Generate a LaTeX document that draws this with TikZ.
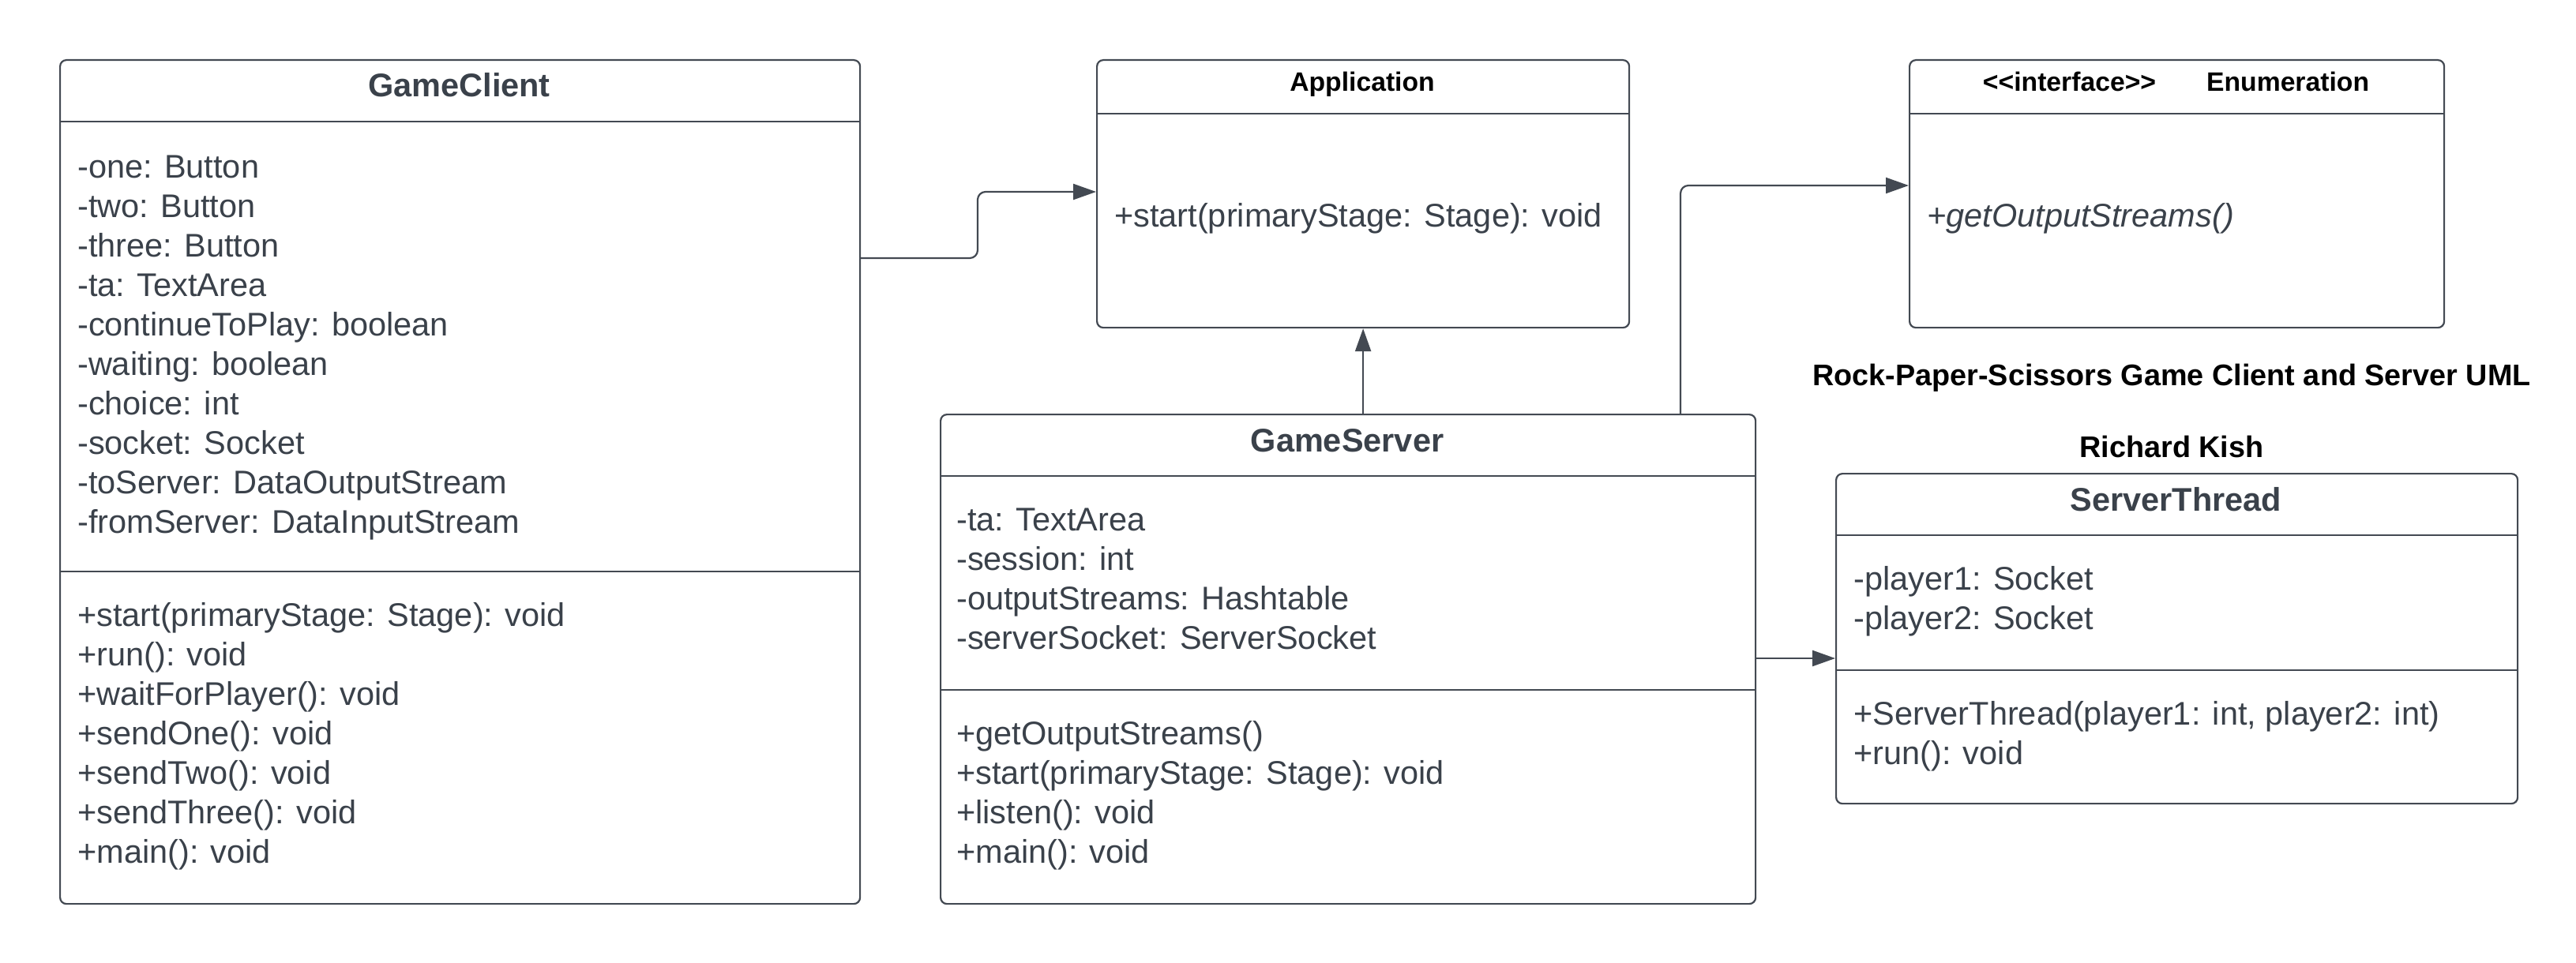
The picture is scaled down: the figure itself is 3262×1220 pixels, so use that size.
\documentclass[tikz,border=0pt]{standalone}
\usepackage{fontspec}
\newfontfamily\umlfont{Liberation Sans}
\usetikzlibrary{arrows.meta}
\definecolor{ink}{HTML}{3A414A}
\definecolor{edgec}{HTML}{434952}
\begin{document}
\begin{tikzpicture}[x=1pt,y=-1pt,
 classbox/.style={draw=edgec, line width=2.2pt, rounded corners=8pt, fill=white, inner sep=0pt, anchor=north west},
 sep/.style={draw=edgec, line width=2.2pt},
 body/.style={font=\umlfont\fontsize{41.5}{50}\selectfont, text=ink, inner sep=0pt, anchor=base west},
 ital/.style={font=\umlfont\itshape\fontsize{41.5}{50}\selectfont, text=ink, inner sep=0pt, anchor=base west},
 cname/.style={font=\umlfont\bfseries\fontsize{41.5}{50}\selectfont, text=ink, inner sep=0pt, anchor=base},
 hname/.style={font=\umlfont\bfseries\fontsize{33.7}{40}\selectfont, text=black, inner sep=0pt, anchor=base},
 bigtitle/.style={font=\umlfont\bfseries\fontsize{37.8}{45}\selectfont, text=black, inner sep=0pt, anchor=base},
 link/.style={draw=edgec, line width=2.2pt, rounded corners=10pt, -{Triangle[length=29pt,width=20pt]}},
]
\fill[white] (0,0) rectangle (3262,1220);
\useasboundingbox (0,0) rectangle (3262,1220);

% class boxes
\node[classbox, minimum width=1013pt, minimum height=1069pt] (client) at (75,75) {};
\node[classbox, minimum width=674pt, minimum height=339pt] (app) at (1388,75) {};
\node[classbox, minimum width=677pt, minimum height=339pt] (enum) at (2417,75) {};
\node[classbox, minimum width=1032pt, minimum height=620pt] (server) at (1190,524) {};
\node[classbox, minimum width=863pt, minimum height=418pt] (thread) at (2324,599) {};

% separators
\draw[sep] ([yshift=-79pt]client.north west) -- ([yshift=-79pt]client.north east);
\draw[sep] ([yshift=-649pt]client.north west) -- ([yshift=-649pt]client.north east);
\draw[sep] ([yshift=-69pt]app.north west) -- ([yshift=-69pt]app.north east);
\draw[sep] ([yshift=-69pt]enum.north west) -- ([yshift=-69pt]enum.north east);
\draw[sep] ([yshift=-79pt]server.north west) -- ([yshift=-79pt]server.north east);
\draw[sep] ([yshift=-350pt]server.north west) -- ([yshift=-350pt]server.north east);
\draw[sep] ([yshift=-79pt]thread.north west) -- ([yshift=-79pt]thread.north east);
\draw[sep] ([yshift=-250pt]thread.north west) -- ([yshift=-250pt]thread.north east);

% titles
\node[cname] (clientT) at (581.5,123) {GameClient};
\node[hname] (appT) at (1725,116) {Application};
\node[hname] (enumT) at (2755.5,116) {<{}<interface>{}>\hspace{64pt}Enumeration};
\node[cname] (serverT) at (1706,572) {GameServer};
\node[cname] (threadT) at (2755.5,647) {ServerThread};
\node[bigtitle] (mainT) at (2750,488) {Rock-Paper-Scissors Game Client and Server UML};
\node[bigtitle] (author) at (2750,579) {Richard Kish};

% GameClient members
\foreach \t [count=\i from 0] in {-one: Button,-two: Button,-three: Button,-ta: TextArea,-continueToPlay: boolean,-waiting: boolean,-choice: int,-socket: Socket,-toServer: DataOutputStream,-fromServer: DataInputStream}
  \node[body] (clientA\i) at (98,225+50*\i) {\t};
\foreach \t [count=\i from 0] in {+start(primaryStage: Stage): void,+run(): void,+waitForPlayer(): void,+sendOne(): void,+sendTwo(): void,+sendThree(): void,+main(): void}
  \node[body] (clientM\i) at (98,793+50*\i) {\t};

% Application / Enumeration
\node[body] (appM) at (1411,287) {+start(primaryStage: Stage): void};
\node[ital] (enumM) at (2440,287) {+getOutputStreams()};

% GameServer members
\foreach \t [count=\i from 0] in {-ta: TextArea,-session: int,-outputStreams: Hashtable,-serverSocket: ServerSocket}
  \node[body] (serverA\i) at (1211,672+50*\i) {\t};
\foreach \t [count=\i from 0] in {+getOutputStreams(),+start(primaryStage: Stage): void,+listen(): void,+main(): void}
  \node[body] (serverM\i) at (1211,943+50*\i) {\t};

% ServerThread members
\node[body] (threadA0) at (2347,747) {-player1: Socket};
\node[body] (threadA1) at (2347,797) {-player2: Socket};
\node[body] (threadM0) at (2347,918) {+ServerThread(player1: int, player2: int)};
\node[body] (threadM1) at (2347,968) {+run(): void};

% connectors
\coordinate (ca) at (1238,327);
\coordinate (cb) at (1238,243);
\draw[link] (client.east |- ca) -- (ca) -- (cb) -- (app.west |- cb);
\draw[link] (app.south |- server.north) -- (app.south);
\coordinate (ce) at (2128,235);
\draw[link] (server.north -| ce) -- (ce) -- (enum.west |- ce);
\coordinate (ct) at (2250,834);
\draw[link] (server.east |- ct) -- (thread.west |- ct);
\end{tikzpicture}
\end{document}
